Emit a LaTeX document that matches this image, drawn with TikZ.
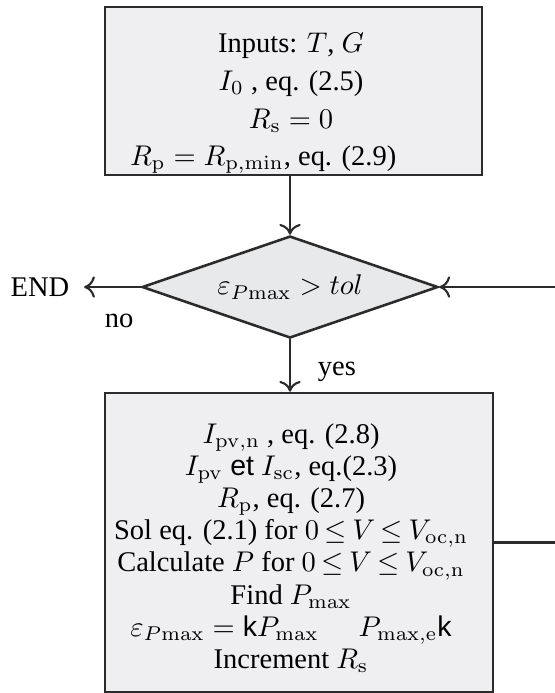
\documentclass[tikz,border=0pt]{standalone}
\usepackage{amsmath,amssymb}
\usepackage[no-math]{fontspec}
\setmainfont{Liberation Serif}
\setsansfont{Liberation Sans}
\usepackage{tikz}
\usetikzlibrary{positioning,arrows.meta,shapes.geometric}
\definecolor{boxgray}{HTML}{EFEFF1}
\definecolor{diagray}{HTML}{E8E9EB}
\definecolor{linegray}{HTML}{2B2B2B}

\begin{document}
\begin{tikzpicture}[
    font=\fontsize{10}{11.3}\selectfont,
    procbox/.style={draw=linegray, line width=0.9pt, fill=boxgray, inner sep=0pt},
    testbox/.style={diamond, aspect=2.9, draw=linegray, line width=0.9pt, fill=diagray, inner sep=0pt},
    flow/.style={draw=linegray, line width=0.75pt, -{To[length=3.8pt,width=7.5pt]}},
    steps/.style={align=center, inner sep=0pt}
  ]
    % frame of the figure (the loop runs off the right edge)
    \clip (0,0) rectangle (6.845,-8.547);

    % Inputs and start values
    \node[procbox, minimum width=4.650cm, minimum height=2.072cm] (init) at (3.620,-1.122) {};
    \node[steps, font=\fontsize{10}{13.2}\selectfont] (initTxt) at (3.590,-1.277) {%
      Inputs: $T$, $G$\\
      $I_0$ , eq. (2.5)\\
      $R_{\mathrm{s}} = 0$\\
      $R_{\mathrm{p}} = R_{\mathrm{p,min}}$, eq. (2.9)\hspace*{19.6pt}};

    % Test on the error
    \node[testbox, minimum width=3.651cm, minimum height=1.258cm] (test) at (3.577,-3.540)
      {$\varepsilon_{P\mathrm{max}} > tol$};

    % Iteration block
    \node[procbox, minimum width=4.785cm, minimum height=3.688cm] (iter) at (3.688,-6.691) {};
    \node[steps] (iterTxt) at (3.590,-6.759) {%
      $I_{\mathrm{pv,n}}$ , eq. (2.8)\\
      $I_{\mathrm{pv}}$ \textsf{et} $I_{\mathrm{sc}}$, eq.(2.3)\\
      $R_{\mathrm{p}}$, eq. (2.7)\\
      Sol eq. (2.1) for $\thickmuskip=3.5mu 0 \leq V \leq V_{\mathrm{oc,n}}$\\
      Calculate $P$ for $\thickmuskip=3.5mu 0 \leq V \leq V_{\mathrm{oc,n}}$\\
      Find $P_{\mathrm{max}}$\\
      $\varepsilon_{P\mathrm{max}} = \text{\textsf{k}}P_{\mathrm{max}}\hspace{1.4em}P_{\mathrm{max,e}}\text{\textsf{k}}$\\
      Increment $R_{\mathrm{s}}$};

    % End of the loop
    \node[inner xsep=5pt] (stop) at (0.493,-3.540) {END};
    \node (lblNo) at (1.468,-3.959) {no};
    \node (lblYes) at (4.156,-4.588) {yes};
    \coordinate (loopR) at (7.2,-6.691);

    % Connectors
    \draw[flow] (init.south -| test.north) -- (test.north);
    \draw[flow] (test.south) -- (test.south |- iter.north);
    \draw[flow] (test) -- (stop);
    \draw[flow] (iter.east) -- (loopR) |- (test.east);

  \end{tikzpicture}
\end{document}
